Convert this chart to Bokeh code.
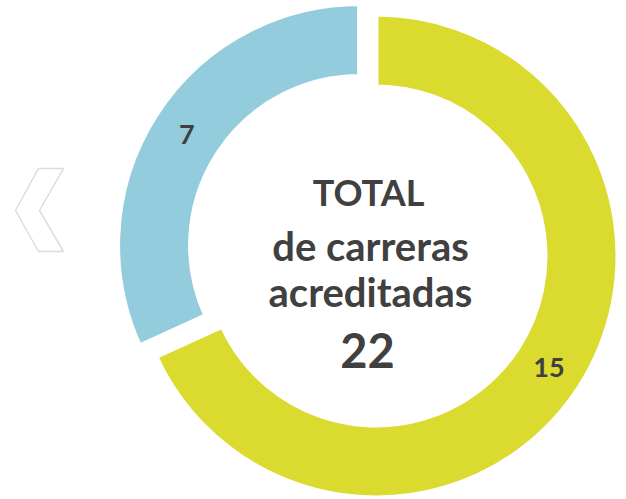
import math
from bokeh.plotting import figure
from bokeh.models import Range1d, ColumnDataSource
from bokeh.core.properties import value
from bokeh.embed import file_html
from bokeh.resources import INLINE

# ---- data ----
categories = ["Acreditadas A", "Acreditadas B"]
values = [15, 7]
colors = ["#dada2f", "#93cddd"]
explode = [0.0, 19.5]
total_lines = ["TOTAL", "de carreras", "acreditadas"]
total_value = sum(values)

# ---- layout constants (pixels inside the figure) ----
W, H = 626, 499
CX, CY = 375.5, 243.5
R_OUT, R_IN = 242, 169
FONT = "Lato"
TXT = "#404040"

p = figure(width=W, height=H, output_backend="svg", toolbar_location=None,
           x_range=Range1d(0, W), y_range=Range1d(0, H), min_border=0)
p.axis.visible = False
p.grid.visible = False
p.outline_line_color = None
p.background_fill_color = "white"
p.border_fill_color = "white"

tot = sum(values)
start = math.pi / 2
xs, ys, sa, ea, lx, ly, labels = [], [], [], [], [], [], []
for v, e in zip(values, explode):
    sweep = 2 * math.pi * v / tot
    end = start - sweep
    mid = start - sweep / 2
    cx = CX + e * math.cos(mid)
    cy = CY + e * math.sin(mid)
    xs.append(cx); ys.append(cy); sa.append(start); ea.append(end)
    rm = (R_IN + R_OUT) / 2
    lx.append(cx + rm * math.cos(mid)); ly.append(cy + rm * math.sin(mid))
    labels.append(str(v))
    start = end

src = ColumnDataSource(dict(x=xs, y=ys, sa=sa, ea=ea, color=colors, cat=categories))
p.annular_wedge(x="x", y="y", inner_radius=R_IN, outer_radius=R_OUT,
                start_angle="sa", end_angle="ea", direction="clock",
                fill_color="color", line_color="white", line_width=5, source=src)

p.text(x=lx, y=ly, text=labels, text_align="center", text_baseline="middle",
       text_font=value(FONT), text_font_style="bold", text_font_size="27px",
       text_color=TXT)

# centre text
p.text(x=[368], y=[308], text=[total_lines[0]], text_align="center",
       text_baseline="middle", text_font=value(FONT), text_font_style="bold",
       text_font_size="36px", text_color=TXT)
p.text(x=[370, 370], y=[253.5, 207.5], text=total_lines[1:], text_align="center",
       text_baseline="middle", text_font=value(FONT), text_font_style="bold",
       text_font_size="40px", text_color=TXT)
p.text(x=[367], y=[149], text=[str(total_value)], text_align="center",
       text_baseline="middle", text_font=value(FONT), text_font_style="bold",
       text_font_size="47px", text_color=TXT)

# decorative chevron on the left
chev_x = [38, 63, 39, 63, 38, 15]
chev_y = [331, 331, 289, 248, 248, 289]
p.patch(chev_x, chev_y, fill_color=None, line_color="#dcdcdc", line_width=1.5)

open("out.html", "w").write(file_html(p, INLINE))
